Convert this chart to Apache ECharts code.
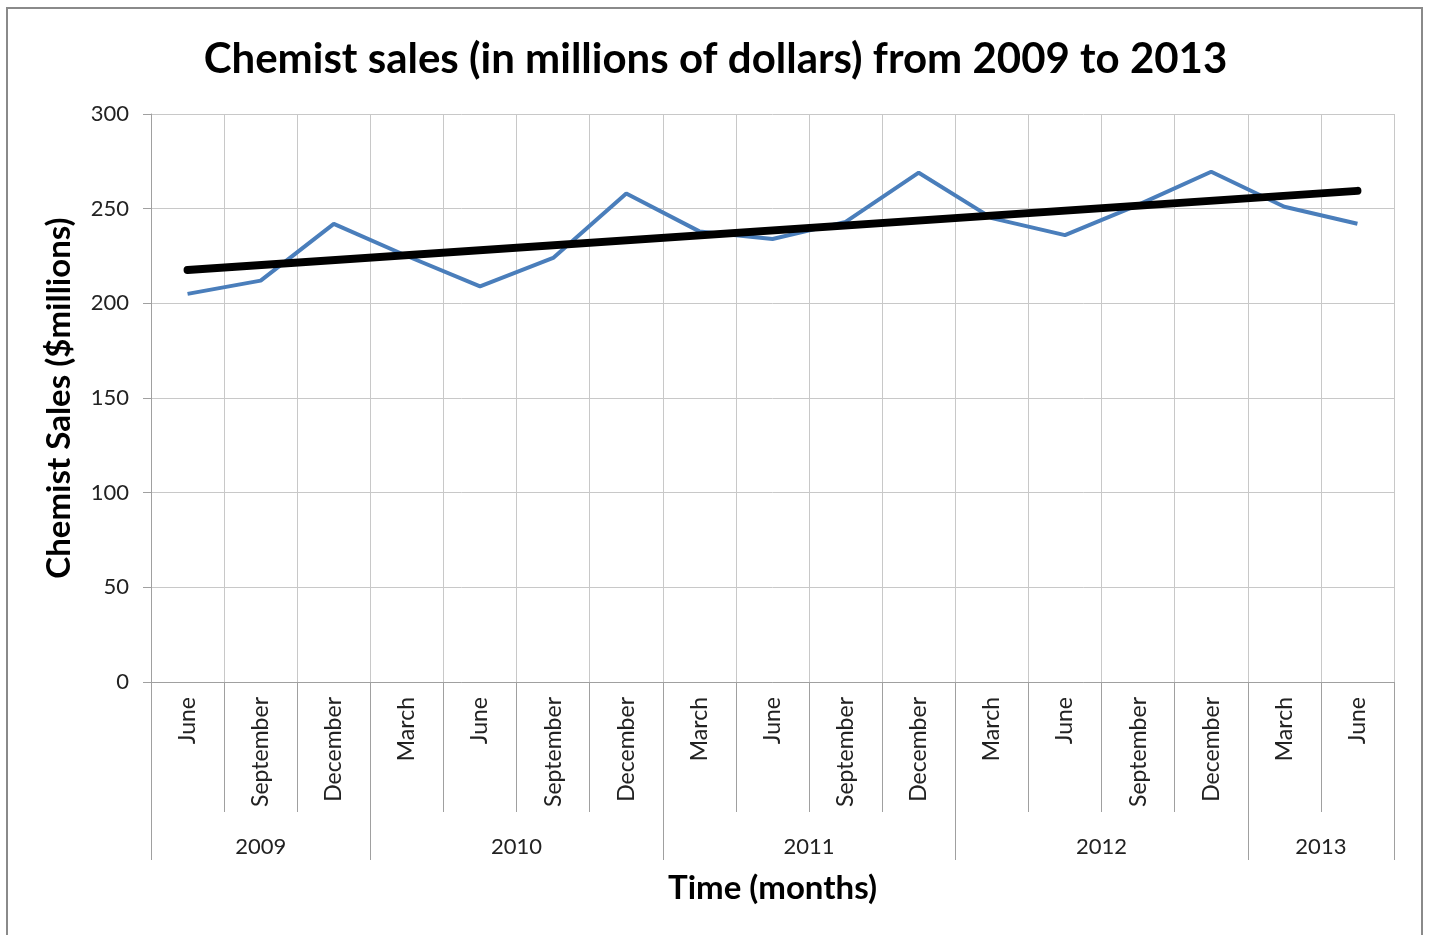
<!DOCTYPE html>
<html>
<head>
<meta charset="utf-8">
<script src="https://cdn.jsdelivr.net/npm/echarts@6/dist/echarts.min.js"></script>
<style>
  html, body { margin: 0; padding: 0; background: #fff; }
  #chart { position: absolute; left: 0; top: 0; width: 1431px; height: 935px; }
  #frame { position: absolute; left: 6px; top: 7px; width: 1413px; height: 940px;
           border: 2px solid #8a8a8a; pointer-events: none; }
</style>
</head>
<body>
<div id="chart"></div>
<div id="frame"></div>
<script>
// ---- data ----
var months = ['June','September','December','March','June','September','December','March','June','September','December','March','June','September','December','March','June'];
var sales = [205, 212, 242, 225, 209, 224, 258, 238, 234, 243, 269, 245, 236, 252, 269.5, 251, 242];
var years = ['2009','2010','2011','2012','2013'];
var yearSpans = [3, 4, 4, 4, 2];          // number of months in each year group
var trendEnds = [217.6, 259.4];           // linear trendline value at first / last month
var yTicks = [0, 50, 100, 150, 200, 250, 300];

// ---- derived helpers ----
var trendData = months.map(function (m, i) {
  if (i === 0) return trendEnds[0];
  if (i === months.length - 1) return trendEnds[1];
  return null;
});
var yearBounds = [0];
yearSpans.forEach(function (s) { yearBounds.push(yearBounds[yearBounds.length - 1] + s); });
var yearCenters = years.map(function (y, i) { return (yearBounds[i] + yearBounds[i + 1]) / 2; });

var FONT = 'Lato, "Open Sans", sans-serif';
var gridColor = '#c8c8c8';

var chart = echarts.init(document.getElementById('chart'));
chart.setOption({
  animation: false,
  title: {
    text: 'Chemist sales (in millions of dollars) from 2009 to 2013',
    left: 'center', top: 33,
    textStyle: { fontFamily: FONT, fontWeight: 'bold', fontSize: 42, color: '#000' }
  },
  grid: { left: 151, right: 37, top: 114, bottom: 253, containLabel: false },
  xAxis: [
    {
      type: 'category',
      data: months,
      boundaryGap: true,
      axisLine: { show: true, lineStyle: { color: '#a0a0a0', width: 1 } },
      axisTick: { show: true, interval: 0, length: 130, lineStyle: { color: '#a0a0a0' } },
      axisLabel: { interval: 0, rotate: 90, margin: 15, fontFamily: FONT, fontSize: 23, color: '#222' },
      splitLine: { show: true, interval: 0, lineStyle: { color: gridColor, width: 1 } },
      name: 'Time (months)',
      nameLocation: 'middle',
      nameGap: 190,
      nameTextStyle: { fontFamily: FONT, fontWeight: 'bold', fontSize: 33, color: '#000' }
    },
    {
      type: 'value',
      min: 0, max: months.length,
      position: 'bottom',
      offset: 130,
      axisLine: { show: false },
      axisTick: { show: true, length: 48, customValues: yearBounds, lineStyle: { color: '#a0a0a0' } },
      axisLabel: {
        show: true, margin: 24, customValues: yearCenters,
        fontFamily: FONT, fontSize: 22, color: '#222',
        formatter: function (v) {
          for (var i = 0; i < yearCenters.length; i++) {
            if (Math.abs(yearCenters[i] - v) < 1e-6) return years[i];
          }
          return '';
        }
      },
      splitLine: { show: false }
    }
  ],
  yAxis: {
    type: 'value',
    min: yTicks[0], max: yTicks[yTicks.length - 1], interval: 50,
    axisLine: { show: true, lineStyle: { color: '#a0a0a0' } },
    axisTick: { show: true, length: 8, lineStyle: { color: '#a0a0a0' } },
    axisLabel: { margin: 22, fontFamily: FONT, fontSize: 22, color: '#222' },
    splitLine: { show: true, lineStyle: { color: gridColor, width: 1 } },
    name: 'Chemist Sales ($millions)',
    nameLocation: 'middle',
    nameGap: 75,
    nameTextStyle: { fontFamily: FONT, fontWeight: 'bold', fontSize: 33, color: '#000' }
  },
  series: [
    {
      type: 'line',
      data: sales,
      xAxisIndex: 0,
      symbol: 'none',
      lineStyle: { color: '#4a7ebb', width: 4 },
      itemStyle: { color: '#4a7ebb' },
      z: 2
    },
    {
      type: 'line',
      data: trendData,
      xAxisIndex: 0,
      connectNulls: true,
      symbol: 'none',
      lineStyle: { color: '#000', width: 8, cap: 'round' },
      itemStyle: { color: '#000' },
      z: 3
    }
  ]
});
</script>
</body>
</html>
